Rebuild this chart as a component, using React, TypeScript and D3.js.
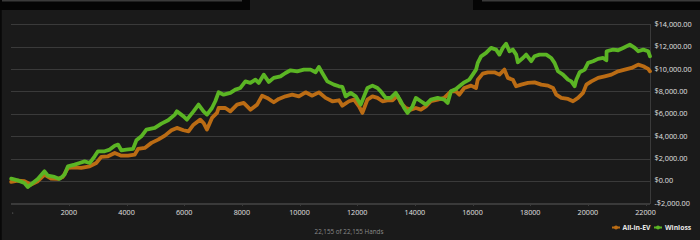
import React, { useEffect } from "react";
import * as d3 from "d3";

const winHands = [0, 226, 459, 574, 748, 922, 1155, 1270, 1503, 1677, 1850, 1965, 2198, 2372, 2546, 2720, 2894, 3009, 3242, 3416, 3590, 3704, 3819, 3993, 4226, 4341, 4515, 4689, 4981, 5210, 5443, 5677, 5746, 5976, 6094, 6323, 6497, 6671, 6790, 6963, 7078, 7193, 7367, 7600, 7774, 7948, 8122, 8296, 8470, 8584, 8758, 8932, 9106, 9339, 9513, 9687, 9920, 10150, 10383, 10557, 10671, 10790, 10963, 11193, 11367, 11485, 11600, 11774, 11948, 12122, 12237, 12355, 12529, 12703, 12817, 12991, 13165, 13339, 13513, 13628, 13746, 13920, 14035, 14209, 14383, 14557, 14790, 15019, 15137, 15252, 15426, 15541, 15715, 15889, 16007, 16122, 16181, 16296, 16470, 16643, 16817, 16932, 17050, 17165, 17280, 17398, 17513, 17572, 17746, 17861, 18035, 18150, 18323, 18557, 18730, 18845, 18963, 19137, 19311, 19426, 19541, 19600, 19715, 19889, 20007, 20181, 20355, 20529, 20643, 20650, 20876, 21050, 21224, 21454, 21628, 21746, 21920, 22094, 22155];
const winValues = [200, 50, -180, -540, -180, 180, 860, 470, 360, 180, 560, 1300, 1460, 1600, 1750, 1600, 2200, 2650, 2650, 2800, 3150, 3250, 2740, 2800, 2860, 3630, 3990, 4590, 4740, 5120, 5420, 5930, 6220, 5770, 5480, 6220, 6820, 6220, 5930, 6520, 7120, 7920, 7710, 7870, 8160, 8310, 8900, 8760, 9050, 8760, 9500, 8850, 9210, 9350, 9650, 9890, 9800, 9950, 9950, 9710, 10190, 9650, 8900, 8610, 8460, 8400, 7560, 7870, 7560, 6820, 7560, 8310, 8520, 8310, 8010, 7420, 7420, 7870, 7120, 6520, 6080, 6670, 7420, 7120, 6820, 7270, 7420, 7270, 6970, 8010, 8220, 8460, 8810, 9050, 9500, 9950, 10550, 11140, 11440, 11890, 11740, 11290, 11890, 12270, 11590, 11740, 11290, 10610, 10990, 11290, 10700, 11140, 11290, 11290, 10990, 10550, 9800, 9500, 9050, 8900, 8460, 9050, 9710, 9950, 10550, 10700, 10910, 10990, 10780, 11590, 11740, 11680, 11890, 12180, 11890, 11590, 11740, 11590, 11140];

const evHands = [0, 226, 459, 689, 922, 1155, 1384, 1617, 1791, 1965, 2198, 2428, 2720, 2950, 3123, 3357, 3590, 3819, 4052, 4285, 4400, 4633, 4863, 5096, 5329, 5558, 5746, 5976, 6150, 6323, 6557, 6671, 6790, 6963, 7137, 7193, 7426, 7600, 7833, 8063, 8296, 8529, 8703, 8877, 9106, 9280, 9513, 9746, 9976, 10209, 10442, 10671, 10904, 11137, 11367, 11485, 11715, 11889, 12063, 12181, 12355, 12529, 12703, 12877, 13050, 13224, 13398, 13513, 13687, 13861, 14035, 14209, 14383, 14557, 14790, 15019, 15252, 15426, 15541, 15715, 15948, 16122, 16181, 16355, 16529, 16758, 16932, 17106, 17224, 17398, 17513, 17687, 17920, 18150, 18383, 18616, 18790, 18904, 19078, 19311, 19485, 19659, 19833, 19948, 20122, 20355, 20585, 20817, 21050, 21280, 21513, 21746, 21920, 22094, 22155];
const evValues = [-90, 30, -30, -330, -30, 560, 200, 180, 360, 1160, 1220, 1160, 1300, 1600, 2150, 2200, 2500, 2260, 2260, 2350, 2860, 2950, 3400, 3690, 4050, 4530, 4740, 4530, 4430, 5030, 5480, 5180, 4590, 5630, 6080, 6520, 6520, 6220, 6820, 6970, 6370, 6820, 7620, 7420, 7030, 7330, 7560, 7710, 7560, 7920, 7620, 7920, 7420, 7120, 7210, 6730, 7120, 7270, 6670, 6080, 7270, 7560, 7420, 7120, 7210, 7210, 7620, 6970, 6520, 6370, 6520, 6370, 6670, 7120, 7270, 7420, 8010, 8010, 7710, 8310, 8520, 8310, 9050, 9590, 9710, 9710, 9500, 9950, 9210, 9050, 8460, 8610, 8760, 8810, 8610, 8520, 8310, 7710, 7420, 7330, 7120, 7420, 7870, 8610, 8900, 9210, 9350, 9500, 9800, 9950, 10100, 10400, 10250, 10020, 9800];

const yTicks = [-2000, 0, 2000, 4000, 6000, 8000, 10000, 12000, 14000];
const xTicks = [2000, 4000, 6000, 8000, 10000, 12000, 14000, 16000, 18000, 20000, 22000];
const totalHands = 22155;
const seriesNames = ["All-in-EV", "Winloss"];
const footerText = "22,155 of 22,155 Hands";

const W = 700, H = 240;
const ORANGE = "#bb6c14";
const GREEN = "#5bb524";
const FONT = "'Open Sans', 'Noto Sans', sans-serif";

export default function App() {
  useEffect(() => {
    document.body.style.margin = "0";
    document.body.style.background = "#1a1a1a";
  }, []);

  const x = d3.scaleLinear().domain([0, totalHands]).range([11.2, 650]);
  const y = d3.scaleLinear().domain([-2000, 14000]).range([203.3, 24.3]);
  const money = d3.formatLocale({ decimal: ".", thousands: ",", grouping: [3], currency: ["$", ""], minus: "-" } as any).format("$,.2f");

  const line = d3.line<[number, number]>().x(d => x(d[0])).y(d => y(d[1]));
  const winPts = winHands.map((h, i) => [h, winValues[i]] as [number, number]);
  const evPts = evHands.map((h, i) => [h, evValues[i]] as [number, number]);

  return (
    <svg width={W} height={H} style={{ position: "absolute", left: 0, top: 0, display: "block" }} fontFamily={FONT}>
      <rect x={0} y={0} width={W} height={H} fill="#1a1a1a" />
      {/* top tab bars */}
      <rect x={0} y={0} width={250} height={10} fill="#050505" />
      <rect x={473} y={0} width={227} height={10} fill="#050505" />
      <rect x={2} y={0} width={240} height={1.5} fill="#3a3a3a" />
      <rect x={482} y={0} width={218} height={1.5} fill="#3a3a3a" />
      <rect x={0} y={10} width={1.7} height={H - 10} fill="#080808" />

      {/* grid */}
      {yTicks.map(t => (
        <line key={t} x1={11} x2={650} y1={Math.round(y(t)) + 0.5} y2={Math.round(y(t)) + 0.5} stroke="#3a3a3a" strokeWidth={1} />
      ))}
      <line x1={650.5} x2={650.5} y1={24} y2={204} stroke="#3a3a3a" />
      <line x1={11} x2={650} y1={204.5} y2={204.5} stroke="#3a3a3a" />

      {yTicks.map(t => (
        <text key={t} x={654.5} y={y(t)} dy="0.35em" fontSize={7.3} fill="#e0e0e0">{money(t)}</text>
      ))}
      {xTicks.map(t => (
        <g key={t}>
          <line x1={Math.round(x(t)) + 0.5} x2={Math.round(x(t)) + 0.5} y1={204} y2={206} stroke="#3a3a3a" />
          <text x={x(t)} y={212.5} dy="0.35em" textAnchor="middle" fontSize={7.2} fill="#e0e0e0">{t}</text>
        </g>
      ))}
      <circle cx={x(0) + 1.5} cy={213} r={0.6} fill="#777" />

      {/* series */}
      <path d={line(evPts) || ""} fill="none" stroke={ORANGE} strokeWidth={3.8} strokeLinejoin="round" strokeLinecap="round" />
      <path d={line(winPts) || ""} fill="none" stroke={GREEN} strokeWidth={3.8} strokeLinejoin="round" strokeLinecap="round" />

      {/* footer */}
      <text x={349} y={232} dy="0.35em" textAnchor="middle" fontSize={6.3} fill="#8a8a8a">{footerText}</text>

      {/* legend */}
      <g>
        <line x1={612} x2={620} y1={227.5} y2={227.5} stroke={ORANGE} strokeWidth={2} />
        <circle cx={616} cy={227.5} r={2} fill={ORANGE} />
        <text x={622.5} y={227.5} dy="0.35em" fontSize={6.8} fontWeight="bold" fill="#e8e8e8">{seriesNames[0]}</text>
        <line x1={654} x2={662} y1={227.5} y2={227.5} stroke={GREEN} strokeWidth={2} />
        <circle cx={658} cy={227.5} r={2} fill={GREEN} />
        <text x={665} y={227.5} dy="0.35em" fontSize={6.8} fontWeight="bold" fill="#e8e8e8">{seriesNames[1]}</text>
      </g>
    </svg>
  );
}
